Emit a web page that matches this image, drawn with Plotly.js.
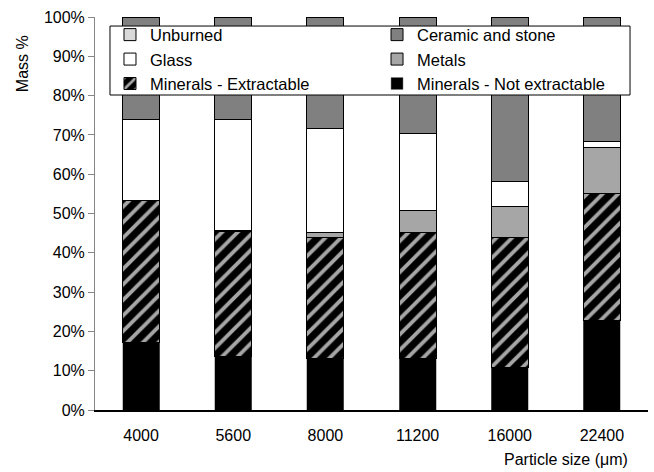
<!DOCTYPE html>
<html>
<head>
<meta charset="utf-8">
<script src="https://cdn.plot.ly/plotly-3.0.1.min.js"></script>
<style>html,body{margin:0;padding:0;background:#fff;}#chart{width:654px;height:472px;}</style>
</head>
<body>
<div id="chart"></div>
<script>
const categories = ["4000", "5600", "8000", "11200", "16000", "22400"];
const notExtractable = [17.2, 13.5, 13.1, 13.1, 10.9, 22.9];
const extractable = [36.1, 31.9, 30.8, 32.1, 33.0, 32.1];
const metals = [0, 0.4, 1.3, 5.5, 7.8, 11.7];
const glass = [20.5, 28.2, 26.5, 19.7, 6.4, 1.7];
const unburned = [0, 0, 0, 0, 0, 0];
const ceramic = [26.2, 26.0, 28.3, 29.6, 41.9, 31.6];
const yTicks = [0, 10, 20, 30, 40, 50, 60, 70, 80, 90, 100];
const yTickLabels = ["0%", "10%", "20%", "30%", "40%", "50%", "60%", "70%", "80%", "90%", "100%"];

const FONT = "'Liberation Sans', Arial, sans-serif";
const W = 0.4;

function bar(name, y, color, rank, leg, extra) {
  return Object.assign({
    type: 'bar', name: name, x: categories, y: y, width: W,
    legendrank: rank, legend: leg,
    marker: {color: color, line: {color: '#000', width: 1}},
    hoverinfo: 'name+y'
  }, extra || {});
}

const traces = [
  bar('Minerals - Not extractable', notExtractable, '#000000', 3, 'legend2',
      {marker: {color: '#000000', line: {color: '#7f7f7f', width: 0.5}}}),
  bar('Minerals - Extractable', extractable, '#000000', 3, 'legend',
      {marker: {color: '#000000', line: {color: '#000', width: 1},
        pattern: {shape: '/', fgcolor: '#a6a6a6', bgcolor: '#000000', size: 11, solidity: 0.35}}}),
  bar('Metals', metals, '#a6a6a6', 2, 'legend2'),
  bar('Glass', glass, '#ffffff', 2, 'legend'),
  bar('Unburned', unburned, '#d9d9d9', 1, 'legend'),
  bar('Ceramic and stone', ceramic, '#808080', 1, 'legend2')
];

const legendCommon = {
  orientation: 'v', y: 0.999, xanchor: 'left', yanchor: 'top',
  bgcolor: 'rgba(0,0,0,0)', borderwidth: 0,
  traceorder: 'normal', tracegroupgap: 0,
  font: {family: FONT, size: 16.5, color: '#000'},
  itemwidth: 30
};

const layout = {
  width: 654, height: 472,
  margin: {l: 95, r: 6, t: 17, b: 62},
  barmode: 'stack',
  paper_bgcolor: '#fff', plot_bgcolor: '#fff',
  font: {family: FONT, size: 16, color: '#000'},
  showlegend: true,
  legend: Object.assign({}, legendCommon, {x: 0.0271}),
  legend2: Object.assign({}, legendCommon, {x: 0.51}),
  shapes: [
    {type: 'rect', xref: 'paper', yref: 'paper', x0: 0.0271, x1: 0.9675, y0: 0.8015, y1: 0.977,
     fillcolor: '#ffffff', line: {color: '#000', width: 1}, layer: 'above'}
  ],
  xaxis: {
    type: 'category', showline: true, linecolor: '#000', linewidth: 1.5,
    ticks: '', showgrid: false, zeroline: false, ticklabelstandoff: 10,
    tickfont: {family: FONT, size: 16, color: '#000'}
  },
  yaxis: {
    range: [0, 100], tickvals: yTicks, ticktext: yTickLabels,
    showline: true, linecolor: '#868686', linewidth: 1,
    ticks: 'outside', ticklen: 6, tickcolor: '#868686',
    showgrid: false, zeroline: false,
    tickfont: {family: FONT, size: 16, color: '#000'}
  },
  annotations: [
    {text: 'Mass %', xref: 'paper', yref: 'paper', x: -0.132, y: 0.88,
     textangle: -90, showarrow: false, xanchor: 'center', yanchor: 'middle',
     font: {family: FONT, size: 16, color: '#000'}},
    {text: 'Particle size (μm)', xref: 'paper', yref: 'paper', x: 0.9675, y: -0.127,
     showarrow: false, xanchor: 'right', yanchor: 'middle',
     font: {family: FONT, size: 16, color: '#000'}}
  ]
};

Plotly.newPlot('chart', traces, layout, {displayModeBar: false, staticPlot: true});
</script>
</body>
</html>
